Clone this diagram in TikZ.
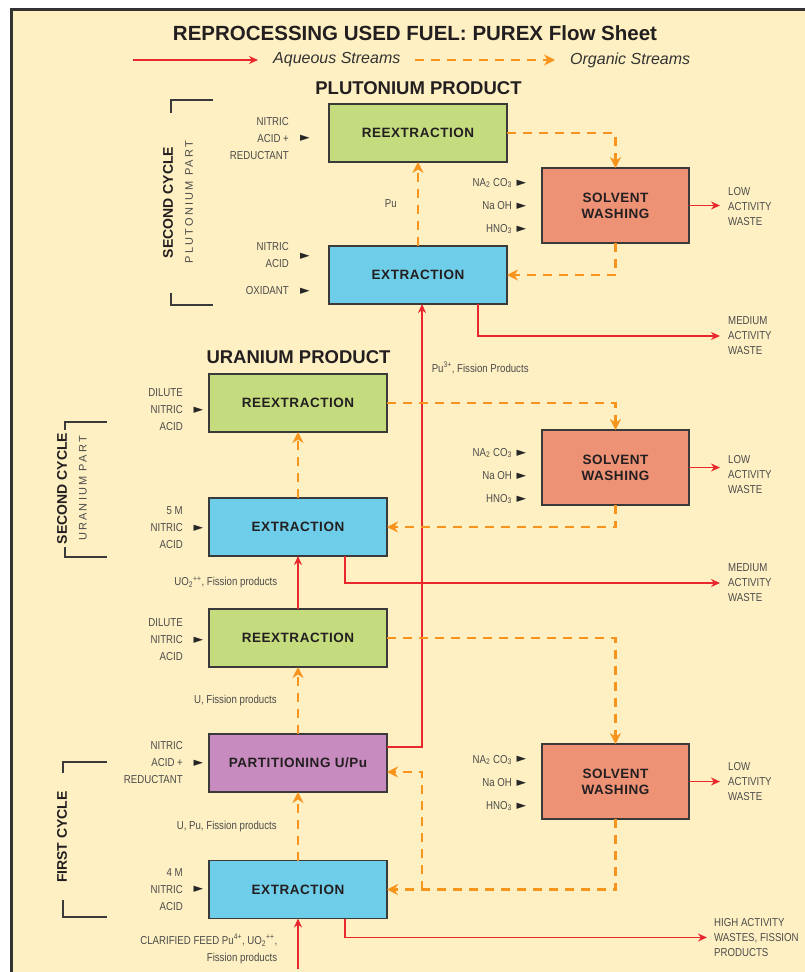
\documentclass[tikz,border=0pt]{standalone}
\usepackage{fontspec}
\setmainfont{Liberation Sans}
\newfontfamily\narrowfont[FakeStretch=0.84]{Liberation Sans}
\newfontfamily\boxfont[LetterSpace=4]{Liberation Sans}
\newfontfamily\spacedfont[LetterSpace=20]{Liberation Sans}
\newfontfamily\tipfont{DejaVu Sans}
\usepackage{xcolor}
\usepackage{tikz}
\usetikzlibrary{arrows.meta, positioning, calc}
\definecolor{sheetcream}{RGB}{254,240,194}
\definecolor{framegrey}{RGB}{51,51,51}
\definecolor{regreen}{RGB}{197,220,126}
\definecolor{exblue}{RGB}{110,205,232}
\definecolor{washsalmon}{RGB}{238,146,118}
\definecolor{partpurple}{RGB}{200,139,191}
\definecolor{boxedge}{RGB}{58,58,58}
\definecolor{aqred}{RGB}{232,40,44}
\definecolor{orgorange}{RGB}{247,148,30}
\definecolor{labelgrey}{RGB}{75,75,75}
\definecolor{inkdark}{RGB}{35,31,32}

\begin{document}
\begin{tikzpicture}[
    x=1pt, y=-1pt,
    box/.style={rectangle, draw=boxedge, line width=1.6pt, outer sep=0pt, inner sep=0pt, minimum width=178pt, minimum height=58pt, align=center, text=inkdark, font=\boxfont\bfseries\fontsize{13.5}{16}\selectfont},
    rebox/.style={box, fill=regreen},
    exbox/.style={box, fill=exblue},
    partbox/.style={box, fill=partpurple},
    washbox/.style={box, fill=washsalmon, minimum width=147pt, minimum height=75pt},
    feed/.style={font=\narrowfont\fontsize{11.5}{17}\selectfont, text=labelgrey, align=right, inner sep=0pt},
    chem/.style={feed, font=\narrowfont\fontsize{11.5}{23}\selectfont},
    waste/.style={font=\narrowfont\fontsize{11.5}{15}\selectfont, text=labelgrey, align=left, inner sep=0pt, anchor=west},
    tip/.style={font=\tipfont\fontsize{12.5}{12.5}\selectfont, text=black!85, inner sep=0pt},
    headtext/.style={font=\bfseries\fontsize{20.5}{24}\selectfont, text=inkdark, inner sep=0pt},
    legendtext/.style={font=\itshape\fontsize{16}{18}\selectfont, text=framegrey, inner sep=0pt, anchor=west},
    cyclelabel/.style={font=\bfseries\fontsize{14}{14}\selectfont, text=inkdark, inner sep=0pt, rotate=90},
    partlabel/.style={font=\spacedfont\fontsize{11}{11}\selectfont, text=labelgrey, inner sep=0pt, rotate=90},
    brk/.style={draw=boxedge, line width=1.8pt},
    aq/.style={draw=aqred, line width=1.6pt, -{Stealth[length=9pt, width=8pt]}},
    org/.style={draw=orgorange, line width=2.6pt, dash pattern=on 9pt off 7pt, -{Stealth[length=11pt, width=11pt]}}
]

% Sheet
\useasboundingbox (0,0) rectangle (805,972);
\fill[sheetcream] (12,10) rectangle (805,972);
\draw[line width=3pt, framegrey] (11.5,972) -- (11.5,9.5) -- (805,9.5);

% Title and legend
\node[headtext] (title) at (415,33) {REPROCESSING USED FUEL: PUREX Flow Sheet};
\coordinate (aqa) at (133,60);
\coordinate (oga) at (415,60);
\node[legendtext] (aqtxt) at (273,60) {Aqueous Streams};
\node[legendtext] (ogtxt) at (570,60) {Organic Streams};
\path [aq, line width=2.2pt, shorten >=15pt] (aqa) -- (aqa -| aqtxt.west);
\path [org, shorten >=15pt] (oga) -- (oga -| ogtxt.west);

% Headings
\node[headtext, font=\bfseries\fontsize{18.5}{22}\selectfont] (puhead) at (418.5,88) {PLUTONIUM PRODUCT};
\node[headtext, font=\bfseries\fontsize{18.5}{22}\selectfont] (uhead) at (298.5,357) {URANIUM PRODUCT};

% Boxes
\node [rebox] (pure) at (418,133) {REEXTRACTION};
\node [exbox, below=84pt of pure] (puex) {EXTRACTION};
\node [washbox, below right=6pt and 35pt of pure] (puwash) {SOLVENT\\WASHING};
\node [rebox] (ure) at (298,403) {REEXTRACTION};
\node [exbox, below=66pt of ure] (uex) {EXTRACTION};
\node [washbox, below=187pt of puwash] (uwash) {SOLVENT\\WASHING};
\node [rebox, below=53pt of uex] (fre) {REEXTRACTION};
\node [partbox, below=67pt of fre] (part) {PARTITIONING U/Pu};
\node [exbox, below=68.5pt of part] (fex) {EXTRACTION};
\node [washbox, below=239pt of uwash] (fwash) {SOLVENT\\WASHING};

% Cycle brackets
\node[cyclelabel] (pucycle) at (168,202.5) {SECOND CYCLE};
\node[partlabel] (pupart) at (189,202) {PLUTONIUM PART};
\draw[brk] (171,113) |- (213,100);
\draw[brk] (171,293) |- (213,305);
\node[cyclelabel] (ucycle) at (62,488.5) {SECOND CYCLE};
\node[partlabel] (upart) at (83,488.5) {URANIUM PART};
\draw[brk] (65,430) |- (107,422);
\draw[brk] (65,547) |- (107,557);
\node[cyclelabel] (fcycle) at (62,837) {FIRST CYCLE};
\draw[brk] (63,773) |- (107,762);
\draw[brk] (63,900) |- (107,917);

% Feeds into the boxes
\node [feed, left=40pt of pure.west, yshift=-5.5pt] (purefeed) {NITRIC\\ACID +\\REDUCTANT};
\node [tip] (puretip) at ([xshift=-24pt, yshift=-5.5pt]pure.west) {►};
\node [feed, left=40pt of puex.west, yshift=19.5pt] (puexfeed) {NITRIC\\ACID};
\node [tip] (puextip) at ([xshift=-24pt, yshift=19pt]puex.west) {►};
\node [feed, left=40pt of puex.west, yshift=-16pt] (puoxfeed) {OXIDANT};
\node [tip] (puoxtip) at ([xshift=-24pt, yshift=-16pt]puex.west) {►};
\node [feed, left=26pt of ure.west, yshift=-7pt] (urefeed) {DILUTE\\NITRIC\\ACID};
\node [tip] (uretip) at ([xshift=-10.5pt, yshift=-7pt]ure.west) {►};
\node [feed, left=26pt of uex.west, yshift=-1pt] (uexfeed) {5 M\\NITRIC\\ACID};
\node [tip] (uextip) at ([xshift=-10.5pt, yshift=-1pt]uex.west) {►};
\node [feed, left=26pt of fre.west, yshift=-2pt] (frefeed) {DILUTE\\NITRIC\\ACID};
\node [tip] (fretip) at ([xshift=-10.5pt, yshift=-2pt]fre.west) {►};
\node [feed, left=26pt of part.west] (partfeed) {NITRIC\\ACID +\\REDUCTANT};
\node [tip] (parttip) at ([xshift=-10.5pt]part.west) {►};
\node [feed, left=26pt of fex.west] (fexfeed) {4 M\\NITRIC\\ACID};
\node [tip] (fextip) at ([xshift=-10.5pt]fex.west) {►};

% Washing chemicals
\node [chem, left=30pt of puwash.west, yshift=-0.5pt] (puchem) {NA\textsubscript{2} CO\textsubscript{3}\\Na OH\\HNO\textsubscript{3}};
\node [tip] (puwtipa) at ([xshift=-20.5pt, yshift=22.5pt]puwash.west) {►};
\node [tip] (puwtipb) at ([xshift=-20.5pt, yshift=-0.5pt]puwash.west) {►};
\node [tip] (puwtipc) at ([xshift=-20.5pt, yshift=-23.5pt]puwash.west) {►};
\node [chem, left=30pt of uwash.west, yshift=-8.5pt] (uchem) {NA\textsubscript{2} CO\textsubscript{3}\\Na OH\\HNO\textsubscript{3}};
\node [tip] (uwtipa) at ([xshift=-20.5pt, yshift=14.5pt]uwash.west) {►};
\node [tip] (uwtipb) at ([xshift=-20.5pt, yshift=-8.5pt]uwash.west) {►};
\node [tip] (uwtipc) at ([xshift=-20.5pt, yshift=-31.5pt]uwash.west) {►};
\node [chem, left=30pt of fwash.west, yshift=-1.5pt] (fchem) {NA\textsubscript{2} CO\textsubscript{3}\\Na OH\\HNO\textsubscript{3}};
\node [tip] (fwtipa) at ([xshift=-20.5pt, yshift=22.5pt]fwash.west) {►};
\node [tip] (fwtipb) at ([xshift=-20.5pt, yshift=-1.5pt]fwash.west) {►};
\node [tip] (fwtipc) at ([xshift=-20.5pt, yshift=-24.5pt]fwash.west) {►};

% Wastes
\node [waste, right=39pt of puwash.east, yshift=-1pt] (pulow) {LOW\\ACTIVITY\\WASTE};
\node [waste] (pumed) at (728,336) {MEDIUM\\ACTIVITY\\WASTE};
\node [waste, right=39pt of uwash.east, yshift=-7.5pt] (ulow) {LOW\\ACTIVITY\\WASTE};
\node [waste] (umed) at (728,583) {MEDIUM\\ACTIVITY\\WASTE};
\node [waste, right=39pt of fwash.east, yshift=-0.5pt] (flow) {LOW\\ACTIVITY\\WASTE};
\node [waste] (fhigh) at (714,937.5) {HIGH ACTIVITY\\WASTES, FISSION\\PRODUCTS};
\coordinate [below=50pt of fex] (feedin);
\coordinate (fork) at ([xshift=35pt]fex.east);

% Aqueous streams
\path [aq, shorten >=8pt] (puwash.east) -- (puwash.east -| pulow.west);
\path [aq, shorten >=8pt] (uwash.east) -- (uwash.east -| ulow.west);
\path [aq, shorten >=8pt] (fwash.east) -- (fwash.east -| flow.west);
\path [aq, shorten >=8pt] ([xshift=60pt]puex.south) |- (pumed.west);
\path [aq, shorten >=8pt] ([xshift=47pt]uex.south) |- (umed.west);
\path [aq, shorten >=7pt] ([xshift=47pt]fex.south) |- (fhigh.west);
\path [aq] ([yshift=16pt]part.east) -| node[feed, pos=0.928, right=9pt] (pulbl) {Pu\textsuperscript{3+}, Fission Products} ([xshift=4pt]puex.south);
\path [aq] (fre) -- node[feed, left=20pt] (uolbl) {UO\textsubscript{2}\textsuperscript{++}, Fission products} (uex);
\path [aq] (feedin) -- node[feed, left=20pt, yshift=-5.5pt] (feedlbl) {CLARIFIED FEED Pu\textsuperscript{4+}, UO\textsubscript{2}\textsuperscript{++},\\Fission products} (fex);

% Organic streams
\path [org] (puex) -- node[feed, left=20pt] (pulabel) {Pu} (pure);
\path [org] (pure.east) -| (puwash.north);
\path [org] (puwash.south) |- (puex.east);
\path [org] (uex) -- (ure);
\path [org] (ure.east) -| (uwash.north);
\path [org] (uwash.south) |- (uex.east);
\path [org] (part) -- node[feed, left=20pt] (ulbl) {U, Fission products} (fre);
\path [org] (fex) -- node[feed, left=20pt] (upulbl) {U, Pu, Fission products} (part);
\path [org] (fre.east) -| (fwash.north);
\path [org] (fwash.south) |- (fex.east);
\path [org] (fork) |- ([yshift=-9pt]part.east);

\end{tikzpicture}
\end{document}
